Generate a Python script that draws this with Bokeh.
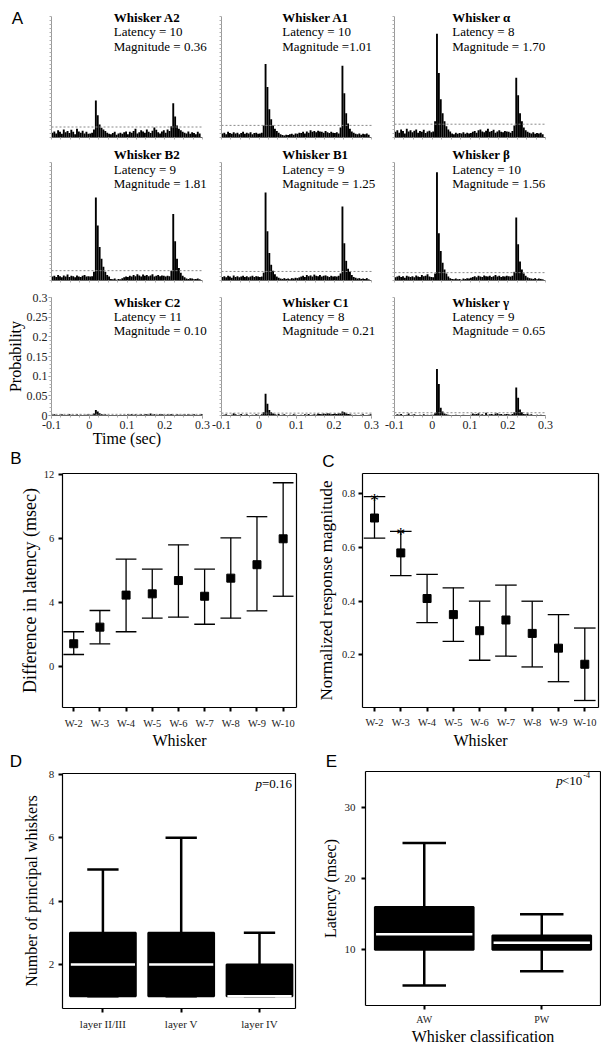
import numpy as np
from bokeh.plotting import figure
from bokeh.layouts import column, row
from bokeh.models import Range1d, FixedTicker, Label, LinearAxis
from bokeh.core.properties import value
from bokeh.embed import file_html
from bokeh.resources import INLINE

SERIF = "Liberation Serif"
SANS = "Liberation Sans"

# ---------------- Panel A : PSTHs (probability x 1000, 5 ms bins from -0.1 s)
BIN0 = -0.1
BINW = 0.005
psth_A2 = [12,15,10,18,14,9,20,13,16,11,19,14,8,22,15,12,17,10,14,9,
           10,12,20,92,55,32,24,20,16,12,9,8,11,14,7,10,12,9,13,15,
           8,14,12,16,22,10,13,18,15,12,20,14,11,17,25,19,13,10,15,18,
           12,20,16,28,85,52,30,22,18,14,12,10,15,9,13,11,8,14,10,0]
psth_A1 = [10,12,8,14,11,9,13,10,12,8,11,14,9,12,10,13,8,11,12,9,
           10,12,30,182,125,70,45,30,22,16,12,8,6,5,7,6,8,9,7,10,
           9,12,11,14,10,15,12,18,14,16,13,17,15,14,12,16,13,11,14,12,
           11,13,10,25,178,110,60,35,22,15,12,9,8,10,7,9,8,10,7,0]
psth_alpha = [14,18,12,20,16,10,22,15,18,13,17,20,12,16,14,19,11,15,17,13,
              15,40,257,160,95,60,40,28,20,15,10,8,12,9,11,10,13,9,12,10,
              11,14,16,12,18,20,15,13,17,22,14,16,19,12,15,18,14,13,16,15,
              14,12,16,30,148,105,60,40,25,18,14,12,10,13,9,11,10,12,8,0]
psth_B2 = [10,12,9,14,11,8,13,10,15,9,12,11,8,13,10,9,12,14,10,11,
           10,11,22,211,140,85,55,35,22,14,10,4,3,5,2,4,3,6,8,10,
           9,12,10,14,11,16,13,10,15,12,14,11,13,16,10,12,14,11,13,12,
           10,12,11,25,169,100,55,32,20,12,8,5,4,6,5,3,4,5,3,0]
psth_B1 = [9,11,8,12,10,7,13,9,11,8,10,12,9,11,8,10,12,9,11,10,
           9,10,20,224,125,70,40,25,16,10,7,5,4,6,4,5,3,6,5,7,
           6,8,10,12,9,14,11,13,10,15,12,11,14,10,12,13,11,9,12,10,
           11,10,12,18,188,95,50,30,22,14,9,7,5,6,4,5,4,6,3,0]
psth_beta = [8,10,12,9,11,7,12,10,9,11,8,13,10,9,14,11,12,16,10,9,
             8,18,275,120,75,45,28,18,10,6,4,3,5,3,4,2,5,4,6,5,
             7,9,11,8,12,10,9,13,11,10,12,9,11,14,10,12,9,11,10,12,
             11,10,12,22,160,92,48,28,18,12,8,6,5,4,6,3,5,4,3,0]
psth_C2 = [2,3,1,0,2,3,0,1,2,4,0,2,1,3,0,2,1,0,2,3,
           2,1,5,14,10,6,4,2,3,1,0,0,1,0,0,1,0,0,2,0,
           3,2,4,1,3,0,2,3,1,4,3,2,5,2,3,1,2,4,3,2,
           1,3,2,4,2,1,3,2,0,2,3,1,4,2,0,3,1,0,2,4]
psth_C1 = [1,2,3,1,0,2,6,3,1,2,4,0,2,3,1,0,2,1,3,2,
           1,3,8,55,30,14,8,5,3,2,4,1,2,3,1,0,2,1,3,2,
           1,0,2,1,3,2,4,1,2,3,2,5,4,3,5,4,6,5,3,4,
           5,4,6,5,10,8,6,4,3,2,1,2,0,1,2,3,1,0,2,3]
psth_gamma = [1,3,2,4,1,0,2,5,1,2,3,0,1,2,0,3,1,2,1,2,
              2,6,118,80,20,10,5,3,2,1,0,1,2,0,1,0,2,1,0,1,
              2,5,3,4,6,2,3,1,7,2,3,4,2,5,6,3,4,2,3,4,
              3,2,4,8,71,45,15,8,4,3,5,2,3,1,0,2,1,2,1,0]
psth = [psth_A2, psth_A1, psth_alpha, psth_B2, psth_B1, psth_beta,
        psth_C2, psth_C1, psth_gamma]
whisker_names = ["A2", "A1", "α", "B2", "B1", "β", "C2", "C1", "γ"]
latency = [10, 10, 8, 9, 9, 10, 11, 8, 9]
magnitude = ["0.36", "1.01", "1.70", "1.81", "1.25", "1.56", "0.10", "0.21", "0.65"]
mag_sep = [" = ", " =", " = ", " = ", " = ", " = ", " = ", " = ", " = "]
threshold = [26, 30, 33, 25, 23, 20, 3, 6, 7]
time_ticks = [-0.1, 0, 0.1, 0.2, 0.3]
time_labels = ["-0.1", "0", "0.1", "0.2", "0.3"]
prob_ticks = [0, 0.05, 0.1, 0.15, 0.2, 0.25, 0.3]
prob_labels = ["0", "0.05", "0.1", "0.15", "0.2", "0.25", "0.3"]

# ---------------- Panels B, C
whisker_cats = ["W-2", "W-3", "W-4", "W-5", "W-6", "W-7", "W-8", "W-9", "W-10"]
lat_mean = [1.44, 2.48, 4.48, 4.56, 5.39, 4.41, 5.54, 6.38, 8.0]
lat_hi = [2.19, 3.52, 6.73, 6.10, 7.62, 6.10, 8.06, 9.38, 11.5]
lat_lo = [0.77, 1.44, 2.19, 3.04, 3.10, 2.66, 3.04, 3.50, 4.41]
lat_ticks = [0, 4, 8, 12]
lat_tick_labels = ["0", "4", "6", "12"]

mag_mean = [0.71, 0.58, 0.41, 0.35, 0.29, 0.33, 0.28, 0.225, 0.165]
mag_hi = [0.79, 0.66, 0.50, 0.45, 0.40, 0.46, 0.40, 0.35, 0.30]
mag_lo = [0.635, 0.495, 0.32, 0.25, 0.18, 0.195, 0.155, 0.10, 0.03]
mag_sig = [True, True, False, False, False, False, False, False, False]
mag_ticks = [0.2, 0.4, 0.6, 0.8]

# ---------------- Panels D, E (box plots)
layers = ["layer II/III", "layer V", "layer IV"]
d_min = [1, 1, 1]
d_q1 = [1, 1, 1]
d_med = [2, 2, 1]
d_q3 = [3, 3, 2]
d_max = [5, 6, 3]
d_ticks = [2, 4, 6, 8]

classes = ["AW", "PW"]
e_min = [5, 7]
e_q1 = [10, 10]
e_med = [12.2, 11]
e_q3 = [16, 12]
e_max = [25, 15]
e_ticks = [10, 20, 30]

# ---------------- layout geometry (pixels)
COL_W = [211, 172, 218]
COL_BL = [51, 10, 11]
COL_BR = [9, 12, 56]
ROW_H = [145, 143, 162]
ROW_BT = [16, 17, 9]
ROW_BB = [8, 8, 35]
TXT_X = [0.065, 0.062, 0.053]
TXT_Y = [[0.298, 0.262, 0.226], [0.320, 0.281, 0.246], [0.288, 0.252, 0.216]]


def lab(p, x, y, text, size, font=SERIF, style="normal", align="left", baseline="middle"):
    p.add_layout(Label(x=x, y=y, text=text, text_font=font, text_font_size=size,
                       text_font_style=style, text_align=align,
                       text_baseline=baseline, text_color="black"))


def base_fig(w, h, xr, yr):
    p = figure(width=w, height=h, x_range=xr, y_range=yr, title=None,
               output_backend="svg", toolbar_location=None, min_border=0)
    p.min_border_left = 0
    p.min_border_right = 0
    p.min_border_top = 0
    p.min_border_bottom = 0
    p.xgrid.visible = False
    p.ygrid.visible = False
    p.background_fill_color = "white"
    p.border_fill_color = "white"
    p.outline_line_color = None
    return p


def make_hist(k):
    r, c = divmod(k, 3)
    fw = COL_W[c] - COL_BL[c] - COL_BR[c]
    fh = ROW_H[r] - ROW_BT[r] - ROW_BB[r]
    sx = fw / 0.4
    sy = fh / 0.3
    p = base_fig(COL_W[c], ROW_H[r],
                 Range1d(-0.1 - COL_BL[c] / sx, 0.3 + COL_BR[c] / sx),
                 Range1d(0 - ROW_BB[r] / sy, 0.3 + ROW_BT[r] / sy))
    vals = np.array(psth[k]) / 1000.0
    centers = BIN0 + BINW * (np.arange(len(vals)) + 0.5)
    p.vbar(x=centers, top=vals, width=BINW, fill_color="black", line_color=None)
    thr = threshold[k] / 1000.0
    p.segment(x0=[time_ticks[0]], y0=[thr], x1=[time_ticks[-1]], y1=[thr],
              line_color="#8a8a8a", line_width=1, line_dash="2 2")
    xa = p.xaxis[0]
    ya = p.yaxis[0]
    xa.fixed_location = 0
    ya.fixed_location = time_ticks[0]
    xa.bounds = (time_ticks[0], time_ticks[-1])
    ya.bounds = (prob_ticks[0], prob_ticks[-1])
    x_minor = [float(v) for v in np.arange(-0.1, 0.3001, 0.025)]
    y_minor = [float(v) for v in np.arange(0, 0.3001, 0.01)]
    show_x = (r == 2)
    show_y = (r == 2 and c == 0)
    xa.ticker = FixedTicker(ticks=time_ticks if show_x else [], minor_ticks=x_minor)
    ya.ticker = FixedTicker(ticks=prob_ticks if show_y else [], minor_ticks=y_minor)
    xa.major_label_overrides = dict(zip(time_ticks, time_labels))
    ya.major_label_overrides = dict(zip(prob_ticks, prob_labels))
    for ax in (xa, ya):
        ax.axis_line_color = "#9a9a9a"
        ax.axis_line_width = 1
        ax.major_tick_line_color = "#8a8a8a"
        ax.minor_tick_line_color = "#b0b0b0"
        ax.major_tick_in = 0
        ax.minor_tick_in = 0
        ax.major_tick_out = 3
        ax.minor_tick_out = 2
        ax.major_label_text_font = SERIF
        ax.major_label_text_font_size = "12px"
        ax.major_label_text_color = "#222222"
        ax.major_label_standoff = 2
        ax.axis_label_text_font = SERIF
        ax.axis_label_text_font_style = "normal"
        ax.axis_label_text_font_size = "16px"
        ax.axis_label_text_color = "black"
        ax.axis_label_standoff = 0
    xa.axis_line_color = "#666666"
    if show_y:
        ya.axis_label = "Probability"
        ya.major_label_standoff = 1
        xa.axis_label = "Time (sec)"
        xa.axis_label_standoff = -2
    lines = [("Whisker " + whisker_names[k], "bold"),
             ("Latency = " + str(latency[k]), "normal"),
             ("Magnitude" + mag_sep[k] + magnitude[k], "normal")]
    for j, (txt, st) in enumerate(lines):
        lab(p, TXT_X[c], TXT_Y[r][j], txt, "13px", style=st)
    if k == 0:
        lab(p, -0.19, 0.296, "A", "17px", font=SANS, align="center")
    return p


hists = [make_hist(k) for k in range(9)]


def boxed_fig(w, h, bl, br, bt, bb, xlim, ylim):
    """Figure whose plotting box sits bl/br/bt/bb pixels inside the canvas;
    the four box sides are axes fixed at the box limits."""
    sx = (w - bl - br) / (xlim[1] - xlim[0])
    sy = (h - bt - bb) / (ylim[1] - ylim[0])
    p = base_fig(w, h, Range1d(xlim[0] - bl / sx, xlim[1] + br / sx),
                 Range1d(ylim[0] - bb / sy, ylim[1] + bt / sy))
    xa = p.below[0]
    ya = p.left[0]
    xa.fixed_location = ylim[0]
    xa.bounds = xlim
    ya.fixed_location = xlim[0]
    ya.bounds = ylim
    top = LinearAxis(fixed_location=ylim[1], bounds=xlim,
                     ticker=FixedTicker(ticks=[], minor_ticks=[]))
    right = LinearAxis(fixed_location=xlim[1], bounds=ylim,
                       ticker=FixedTicker(ticks=[], minor_ticks=[]))
    p.add_layout(top, "above")
    p.add_layout(right, "right")
    for ax in (xa, ya, top, right):
        ax.axis_line_color = "black"
        ax.axis_line_width = 1.2
        ax.major_tick_line_color = "black"
        ax.major_tick_line_width = 2
        ax.major_tick_in = 0
        ax.major_tick_out = 4
        ax.minor_tick_line_color = None
        ax.major_label_text_font = SERIF
        ax.major_label_text_color = "#222222"
        ax.axis_label_text_font = SERIF
        ax.axis_label_text_font_style = "normal"
        ax.axis_label_text_font_size = "16px"
        ax.axis_label_text_color = "black"
    return p, xa, ya


def style_main(xa, ya, tick_font, xstand, ystand, xls, yls, ylab_size):
    xa.major_label_text_font_size = tick_font
    ya.major_label_text_font_size = tick_font
    ya.axis_label_text_font_size = ylab_size
    xa.major_label_standoff = xstand
    ya.major_label_standoff = ystand
    xa.axis_label_standoff = xls
    ya.axis_label_standoff = yls


idx = np.arange(len(whisker_cats))

# ---- Panel B
pB, bx, by = boxed_fig(314, 300, 61.7, 18, 23.3, 42.7, (-0.44, 8.51), (-2.56, 12.06))
pB.segment(x0=idx, y0=lat_lo, x1=idx, y1=lat_hi, line_color="black", line_width=1.3)
pB.segment(x0=idx - 0.395, y0=lat_hi, x1=idx + 0.395, y1=lat_hi, line_color="black", line_width=1.3)
pB.segment(x0=idx - 0.395, y0=lat_lo, x1=idx + 0.395, y1=lat_lo, line_color="black", line_width=1.3)
pB.scatter(x=idx, y=lat_mean, marker="square", size=8, color="black")
bx.ticker = FixedTicker(ticks=[int(i) for i in idx])
bx.major_label_overrides = {int(i): w for i, w in zip(idx, whisker_cats)}
by.ticker = FixedTicker(ticks=lat_ticks)
by.major_label_overrides = dict(zip(lat_ticks, lat_tick_labels))
bx.axis_label = "Whisker"
by.axis_label = "Difference in latency (msec)"
style_main(bx, by, "10.5px", 6, 4, 0, 1, "18px")
lab(pB, -2.205, 13.02, "B", "17px", font=SANS, align="center")

# ---- Panel C
pC, cx, cy = boxed_fig(287, 300, 47.7, 3.3, 22.7, 43.3, (-0.468, 8.51), (0.005, 0.877))
pC.segment(x0=idx, y0=mag_lo, x1=idx, y1=mag_hi, line_color="black", line_width=1.3)
pC.segment(x0=idx - 0.41, y0=mag_hi, x1=idx + 0.41, y1=mag_hi, line_color="black", line_width=1.3)
pC.segment(x0=idx - 0.41, y0=mag_lo, x1=idx + 0.41, y1=mag_lo, line_color="black", line_width=1.3)
pC.scatter(x=idx, y=mag_mean, marker="square", size=8, color="black")
sig_x = [int(i) for i, s in zip(idx, mag_sig) if s]
sig_y = [h for h, s in zip(mag_hi, mag_sig) if s]
pC.text(x=sig_x, y=sig_y, text=["*"] * len(sig_x), text_font=value(SERIF),
        text_font_size="18px", text_align="center", text_baseline="alphabetic",
        y_offset=4, text_color="black")
cx.ticker = FixedTicker(ticks=[int(i) for i in idx])
cx.major_label_overrides = {int(i): w for i, w in zip(idx, whisker_cats)}
cy.ticker = FixedTicker(ticks=mag_ticks)
cx.axis_label = "Whisker"
cy.axis_label = "Normalized response magnitude"
style_main(cx, cy, "10.5px", 6, 3, 0, 3, "17px")
lab(pC, -1.75, 0.922, "C", "17px", font=SANS, align="center")


def boxes(p, xa, n, mins, q1, med, q3, maxs, hw, cw):
    x = np.arange(n)
    p.segment(x0=x, y0=q3, x1=x, y1=maxs, line_color="black", line_width=2.5)
    p.segment(x0=x, y0=mins, x1=x, y1=q1, line_color="black", line_width=2.5)
    p.segment(x0=x - cw, y0=maxs, x1=x + cw, y1=maxs, line_color="black", line_width=2.5)
    p.segment(x0=x - cw, y0=mins, x1=x + cw, y1=mins, line_color="black", line_width=2.5)
    p.quad(left=x - hw, right=x + hw, bottom=q1, top=q3, fill_color="black",
           line_color="black", line_width=2)
    p.segment(x0=x - hw + 0.01, y0=med, x1=x + hw - 0.01, y1=med, line_color="white", line_width=2.5)
    xa.ticker = FixedTicker(ticks=[int(i) for i in x])


# ---- Panel D
pD, dx, dy = boxed_fig(318, 298, 61.7, 23, 23.3, 39.7, (-0.52, 2.46), (0.6, 8.02))
boxes(pD, dx, len(layers), d_min, d_q1, d_med, d_q3, d_max, 0.42, 0.2)
dx.major_label_overrides = {i: s for i, s in enumerate(layers)}
dy.ticker = FixedTicker(ticks=d_ticks)
dy.axis_label = "Number of principal whiskers"
style_main(dx, dy, "11px", 5, 4, 0, 6, "16px")
lab(pD, -1.11, 8.42, "D", "17px", font=SANS, align="center")
lab(pD, 1.949, 7.72, "p", "13px", style="italic")
lab(pD, 2.032, 7.72, "=0.16", "13px")

# ---- Panel E
pE, ex, ey = boxed_fig(283, 298, 47, 1, 20.7, 43, (-0.5, 1.5), (2.2, 35.05))
boxes(pE, ex, len(classes), e_min, e_q1, e_med, e_q3, e_max, 0.42, 0.185)
ex.major_label_overrides = {i: s for i, s in enumerate(classes)}
ey.ticker = FixedTicker(ticks=e_ticks)
ex.axis_label = "Whisker classification"
ey.axis_label = "Latency (msec)"
style_main(ex, ey, "11px", 4, 6, 0, 3, "16px")
ex.major_label_text_font_size = "10px"
lab(pE, -0.79, 36.48, "E", "17px", font=SANS, align="center")
lab(pE, 1.123, 33.75, "p", "13px", style="italic")
lab(pE, 1.172, 33.75, "<10", "13px")
lab(pE, 1.353, 34.45, "-4", "8px")

layout = column(
    row(hists[0], hists[1], hists[2], spacing=0),
    row(hists[3], hists[4], hists[5], spacing=0),
    row(hists[6], hists[7], hists[8], spacing=0),
    row(pB, pC, spacing=0),
    row(pD, pE, spacing=0),
    spacing=0,
)

open("out.html", "w").write(file_html(layout, INLINE))
